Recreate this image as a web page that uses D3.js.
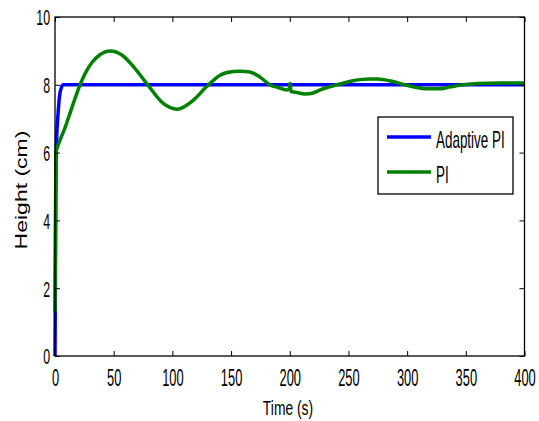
<!DOCTYPE html>
<html>
<head>
<meta charset="utf-8">
<script src="https://cdn.jsdelivr.net/npm/d3@7"></script>
<style>
	body { margin: 0; background: #fff; }
	svg { display: block; }
	text { font-family: 'Liberation Sans', Arial, sans-serif; fill: #000; }
</style>
</head>
<body>
<svg id="chart" width="539" height="421"></svg>
<script>
// values
let timeAdaptive = [0, 0.3, 0.8, 1.5, 2.5, 4, 5.5, 7, 400];
let heightAdaptive = [0, 2, 5.5, 6.5, 7.1, 7.7, 7.93, 8, 8];

let timePI = [0, 0.3, 0.8, 2, 4.3, 8.5, 11.4, 15.6, 21.3, 27, 32, 38, 47, 57, 67, 79, 92, 104, 118, 129,
	141, 152, 158, 166, 175, 183, 190, 197.6, 199.5, 200.4, 201, 205, 213, 220, 226, 233, 240, 247, 254,
	262, 268, 275, 286, 296, 305, 312, 317, 327, 337, 348, 360, 380, 400];
let heightPI = [1.3, 3, 6.0, 6.15, 6.37, 6.73, 7.02, 7.45, 8.0, 8.42, 8.68, 8.88, 9.0, 8.88, 8.53, 8.0, 7.46, 7.28, 7.55, 7.94,
	8.29, 8.39, 8.40, 8.38, 8.22, 8.0, 7.92, 7.85, 7.88, 8.04, 7.8, 7.78, 7.73, 7.76, 7.85, 7.93, 8.0, 8.06, 8.12,
	8.16, 8.17, 8.17, 8.11, 8.02, 7.94, 7.9, 7.88, 7.88, 7.94, 8.0, 8.04, 8.05, 8.05];

let xTicks = [0, 50, 100, 150, 200, 250, 300, 350, 400];
let yTicks = [0, 2, 4, 6, 8, 10];

let seriesNames = ['Adaptive PI', 'PI'];
let seriesColors = ['#0000ff', '#008000'];

// the figure text is squeezed sideways, like the original export
let squeeze = 0.56;

let svg = d3.select('#chart');

let plotLeft = 55, plotRight = 524.5, plotTop = 17, plotBottom = 356;

let x = d3.scaleLinear().domain([0, 400]).range([plotLeft, plotRight]);
let y = d3.scaleLinear().domain([0, 10]).range([plotBottom, plotTop]);

// curves first, frame drawn over them
let line = d3.line()
	.x(d => x(d[0]))
	.y(d => y(d[1]))
	.curve(d3.curveMonotoneX)
;

svg.append('path')
	.datum(d3.zip(timeAdaptive, heightAdaptive))
	.attr('d', line)
	.attr('fill', 'none')
	.attr('stroke', seriesColors[0])
	.attr('stroke-width', 3.5)
	.attr('stroke-linejoin', 'round')
;

svg.append('path')
	.datum(d3.zip(timePI, heightPI))
	.attr('d', line)
	.attr('fill', 'none')
	.attr('stroke', seriesColors[1])
	.attr('stroke-width', 3.5)
	.attr('stroke-linejoin', 'round')
;

// axes with inward ticks, mirrored on top and right
let xAxis = svg.append('g')
	.attr('transform', 'translate(0,' + plotBottom + ')')
	.call(d3.axisBottom(x).tickValues(xTicks).tickSizeInner(-5).tickSizeOuter(0).tickPadding(14))
;
svg.append('g')
	.attr('transform', 'translate(0,' + plotTop + ')')
	.call(d3.axisTop(x).tickValues(xTicks).tickSizeInner(-5).tickSizeOuter(0).tickFormat(''))
;
let yAxis = svg.append('g')
	.attr('transform', 'translate(' + plotLeft + ',0)')
	.call(d3.axisLeft(y).tickValues(yTicks).tickSizeInner(-5).tickSizeOuter(0))
;
svg.append('g')
	.attr('transform', 'translate(' + plotRight + ',0)')
	.call(d3.axisRight(y).tickValues(yTicks).tickSizeInner(-5).tickSizeOuter(0).tickFormat(''))
;

svg.selectAll('.domain').remove();
svg.selectAll('.tick line').attr('stroke', '#000').attr('stroke-width', 1);
svg.selectAll('g').attr('font-family', null);

xAxis.selectAll('text')
	.attr('font-size', 23)
	.attr('transform', 'scale(' + squeeze + ',1)')
;
yAxis.selectAll('text')
	.attr('font-size', 22)
	.attr('x', -5 / squeeze)
	.attr('dy', '0.36em')
	.attr('transform', 'scale(' + squeeze + ',1)')
;

svg.append('rect')
	.attr('x', plotLeft)
	.attr('y', plotTop)
	.attr('width', plotRight - plotLeft)
	.attr('height', plotBottom - plotTop)
	.attr('fill', 'none')
	.attr('stroke', '#000')
	.attr('stroke-width', 1.3)
;

// axis titles
svg.append('text')
	.attr('text-anchor', 'middle')
	.attr('font-size', 21)
	.attr('transform', 'translate(288,415) scale(0.66,1)')
	.text('Time (s)')
;

svg.append('text')
	.attr('text-anchor', 'middle')
	.attr('font-size', 23)
	.attr('transform', 'translate(27,190) scale(0.72,1) rotate(-90)')
	.text('Height (cm)')
;

// legend
let legend = svg.append('g');

legend.append('rect')
	.attr('x', 378)
	.attr('y', 117)
	.attr('width', 135)
	.attr('height', 77)
	.attr('fill', '#fff')
	.attr('stroke', '#000')
	.attr('stroke-width', 1.3)
;

let rows = legend.selectAll('g.row')
	.data(seriesNames)
	.enter()
	.append('g')
	.attr('class', 'row')
	.attr('transform', (d, i) => 'translate(0,' + (137 + i * 35) + ')')
;

rows.append('line')
	.attr('x1', 387)
	.attr('x2', 431)
	.attr('stroke', (d, i) => seriesColors[i])
	.attr('stroke-width', 3.5)
;

rows.append('text')
	.attr('font-size', 24)
	.attr('transform', 'translate(436,11) scale(0.56,1)')
	.text(d => d)
;
</script>
</body>
</html>
